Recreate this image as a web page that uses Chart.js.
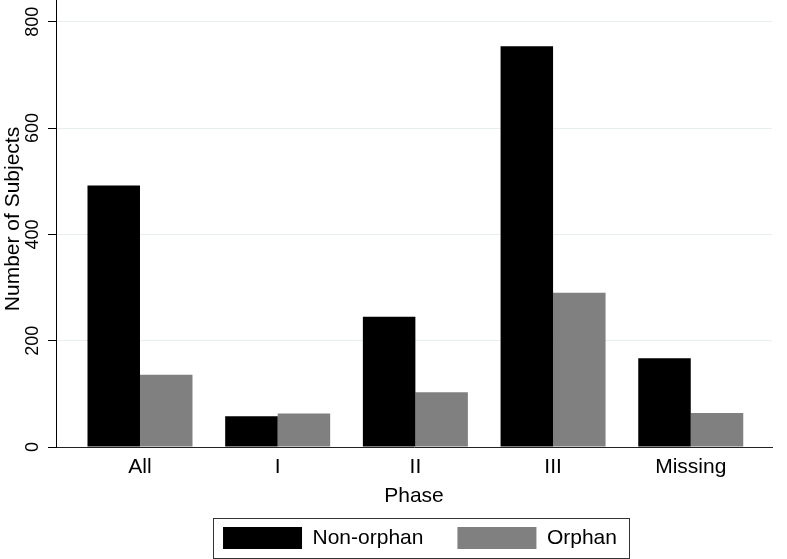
<!DOCTYPE html>
<html>
<head>
<meta charset="utf-8">
<script src="https://cdn.jsdelivr.net/npm/chart.js@4.4.1/dist/chart.umd.min.js"></script>
<style>
  html, body { margin: 0; padding: 0; background: #fff; }
  #wrap { width: 787px; height: 559px; }
</style>
</head>
<body>
<div id="wrap"><canvas id="c" width="787" height="559"></canvas></div>
<script>
const categories = ['All', 'I', 'II', 'III', 'Missing'];
const nonOrphan = [492, 58, 245, 754, 167];
const orphan = [136, 63, 103, 290, 64];
const yTicks = [0, 200, 400, 600, 800];
const seriesNames = ['Non-orphan', 'Orphan'];
const xTitle = 'Phase';
const yTitle = 'Number of Subjects';

const FONT = '"Liberation Sans", Arial, Helvetica, sans-serif';

const customText = {
  id: 'customText',
  afterDraw(chart) {
    const ctx = chart.ctx;
    const ys = chart.scales.y;
    ctx.save();
    ctx.fillStyle = '#000';
    ctx.textAlign = 'center';
    ctx.textBaseline = 'alphabetic';
    ctx.font = '18px ' + FONT;
    yTicks.forEach(v => {
      const py = ys.getPixelForValue(v);
      ctx.save();
      ctx.translate(38, py);
      ctx.rotate(-Math.PI / 2);
      ctx.fillText(String(v), 0, 0);
      ctx.restore();
    });
    ctx.font = '21px ' + FONT;
    ctx.save();
    ctx.translate(18.5, 219);
    ctx.rotate(-Math.PI / 2);
    ctx.fillText(yTitle, 0, 0);
    ctx.restore();
    // legend frame
    const hb = chart.legend.legendHitBoxes;
    if (hb && hb.length) {
      const first = hb[0], last = hb[hb.length - 1];
      const l = first.left - 10, r = last.left + last.width + 12.5;
      const t = first.top - 9, b = first.top + first.height + 8.5;
      ctx.strokeStyle = '#333';
      ctx.lineWidth = 1;
      ctx.strokeRect(Math.round(l) + 0.5, Math.round(t) + 0.5, Math.round(r - l), Math.round(b - t));
    }
    ctx.restore();
  }
};

new Chart(document.getElementById('c'), {
  type: 'bar',
  data: {
    datasets: [
      {
        label: seriesNames[0],
        data: nonOrphan.map((v, i) => ({ x: i, y: v })),
        backgroundColor: '#000000',
        borderWidth: 0
      },
      {
        label: seriesNames[1],
        data: orphan.map((v, i) => ({ x: i, y: v })),
        backgroundColor: '#808080',
        borderWidth: 0
      }
    ]
  },
  options: {
    responsive: false,
    animation: false,
    devicePixelRatio: 1,
    layout: { padding: { left: 53, right: 0, top: 0, bottom: 0 } },
    datasets: { bar: { categoryPercentage: 0.7626, barPercentage: 1 } },
    plugins: {
      tooltip: { enabled: false },
      legend: {
        position: 'bottom',
        align: 'center',
        labels: {
          boxWidth: 79,
          boxHeight: 22,
          padding: 34,
          color: '#000',
          font: { family: FONT, size: 21 }
        }
      }
    },
    scales: {
      x: {
        type: 'linear',
        offset: false,
        min: -0.61,
        max: 4.59,
        afterBuildTicks: s => { s.ticks = categories.map((c, i) => ({ value: i })); },
        afterFit: s => { s.height = 46; },
        grid: { display: false, drawTicks: false, offset: false },
        border: { display: true, color: '#222', width: 1 },
        ticks: {
          autoSkip: false,
          maxRotation: 0,
          padding: 8,
          color: '#000',
          font: { family: FONT, size: 21 },
          callback: v => categories[v]
        },
        title: {
          display: true,
          text: xTitle,
          color: '#000',
          font: { family: FONT, size: 21 },
          padding: { top: 0, bottom: -16 }
        }
      },
      y: {
        type: 'linear',
        position: 'left',
        min: 0,
        max: 841,
        afterBuildTicks: s => { s.ticks = yTicks.map(v => ({ value: v })); },
        afterFit: s => { s.width = 3; },
        grid: { color: '#e6eef0', lineWidth: 1, drawTicks: true, tickLength: 8, tickColor: '#000' },
        border: { display: true, color: '#000', width: 1 },
        ticks: { display: false }
      },
      y2: {
        type: 'linear',
        position: 'right',
        display: true,
        afterFit: s => { s.width = 15; },
        grid: { display: false, drawTicks: false },
        border: { display: false },
        ticks: { display: false }
      }
    }
  },
  plugins: [customText]
});
</script>
</body>
</html>
